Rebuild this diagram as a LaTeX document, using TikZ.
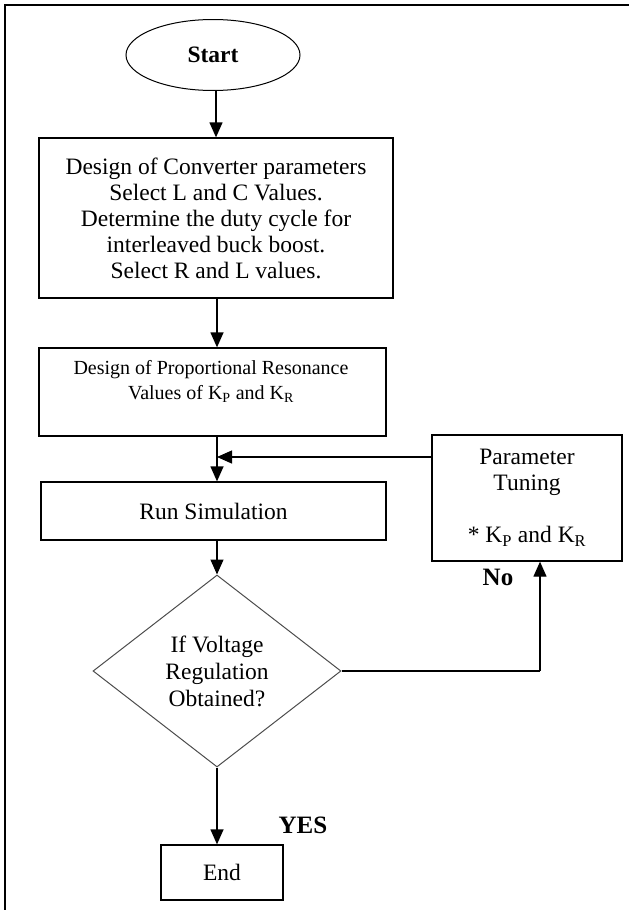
\documentclass[tikz,border=0pt]{standalone}
\usepackage{fontspec}
\setmainfont{Liberation Serif}
\usetikzlibrary{shapes.geometric,arrows.meta,calc}
\begin{document}
\begin{tikzpicture}[x=1pt,y=-1pt,
  box/.style={draw=black,line width=1.3pt,inner sep=0pt,align=center,font=\fontsize{23.5}{26}\selectfont},
  smalltxt/.style={align=center,inner sep=0pt,font=\fontsize{20}{25}\selectfont},
  arr/.style={line width=1.3pt,-{Triangle[width=13pt,length=15pt]}},
  plain/.style={line width=1.3pt},
  lbl/.style={inner sep=0pt,font=\fontsize{25}{28}\selectfont\bfseries}]
\useasboundingbox (0,0) rectangle (629,910);
\draw[line width=2.5pt] (5,910) -- (5,5) -- (629,5);

\node[ellipse,draw=black,line width=1pt,minimum width=174pt,minimum height=71pt,inner sep=0pt,
      font=\fontsize{23.5}{26}\selectfont\bfseries] (start) at (213,55) {Start};

\node[box,minimum width=354pt,minimum height=160pt] (box1) at (216,218)
  {Design of Converter parameters\\Select L and C Values.\\Determine the duty cycle for\\interleaved buck boost.\\Select R and L values.};

\node[box,minimum width=347pt,minimum height=88pt] (box2) at (212.5,392) {};
\node[smalltxt] (box2t) at (211,381.5) {Design of Proportional Resonance\\Values of K\textsubscript{P} and K\textsubscript{R}};

\node[box,minimum width=345pt,minimum height=58pt] (run) at (213.5,511) {Run Simulation};

\node[box,minimum width=190pt,minimum height=126pt] (pt) at (527,498)
  {Parameter\\Tuning\\[26pt]* K\textsubscript{P} and K\textsubscript{R}};

\node[diamond,draw=black!70,line width=1pt,minimum width=248pt,minimum height=192pt,inner sep=0pt,
      align=center,font=\fontsize{23.5}{27}\selectfont] (d) at (217,671)
  {If Voltage\\Regulation\\Obtained?};

\node[box,minimum width=122pt,minimum height=55pt] (endb) at (222,872.5) {End};

\node[lbl] (no) at (498,577) {No};
\node[lbl] (yes) at (303,825) {YES};

\coordinate (join) at (217,457);
\coordinate (corner) at (540,671);

\draw[arr] (start.south -| box1.north) -- (box1.north);
\draw[arr] (join |- box1.south) -- (join |- box2.north);
\draw[plain] (join |- box2.south) -- (join);
\draw[arr] (join) -- (join |- run.north);
\draw[arr] (pt.west |- join) -- (join);
\draw[arr] (d.north |- run.south) -- (d.north);
\draw[plain] (d.east) -- (corner);
\draw[arr] (corner) -- (corner |- pt.south);
\draw[arr] (d.south) -- (d.south |- endb.north);
\end{tikzpicture}
\end{document}
